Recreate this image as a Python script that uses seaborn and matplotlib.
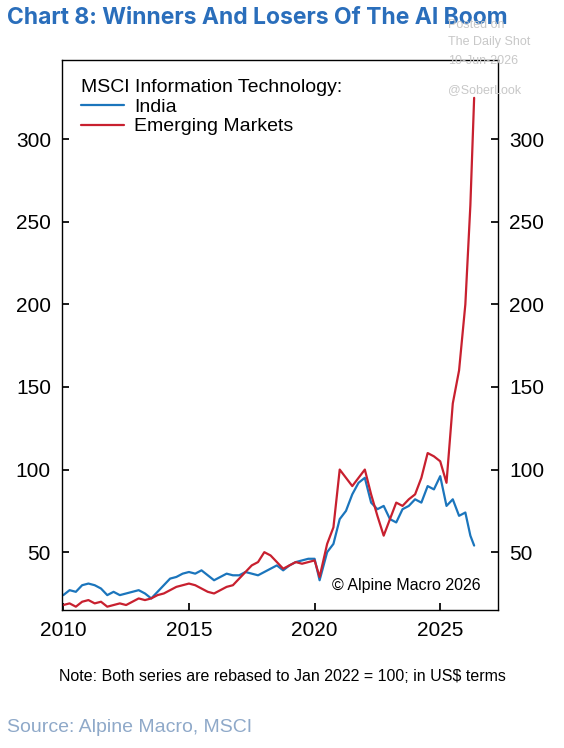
import numpy as np
import pandas as pd
import matplotlib
matplotlib.use("Agg")
import matplotlib.pyplot as plt
import seaborn as sns
from matplotlib.lines import Line2D

# quarterly readings (rebased, Jan 2022 = 100)
india_dates = [2010.0, 2010.25, 2010.5, 2010.75, 2011.0, 2011.25, 2011.5, 2011.75, 2012.0, 2012.25,
               2012.5, 2012.75, 2013.0, 2013.25, 2013.5, 2013.75, 2014.0, 2014.25, 2014.5, 2014.75,
               2015.0, 2015.25, 2015.5, 2015.75, 2016.0, 2016.25, 2016.5, 2016.75, 2017.0, 2017.25,
               2017.5, 2017.75, 2018.0, 2018.25, 2018.5, 2018.75, 2019.0, 2019.25, 2019.5, 2019.75,
               2020.0, 2020.2, 2020.5, 2020.75, 2021.0, 2021.25, 2021.5, 2021.75, 2022.0, 2022.25,
               2022.5, 2022.75, 2023.0, 2023.25, 2023.5, 2023.75, 2024.0, 2024.25, 2024.5, 2024.75,
               2025.0, 2025.25, 2025.5, 2025.75, 2026.0, 2026.2, 2026.35]
india_vals = [24, 27, 26, 30, 31, 30, 28, 24, 26, 24,
              25, 26, 27, 25, 22, 26, 30, 34, 35, 37,
              38, 37, 39, 36, 33, 35, 37, 36, 36, 38,
              37, 36, 38, 40, 42, 39, 42, 44, 45, 46,
              46, 33, 50, 55, 70, 75, 85, 92, 95, 80,
              76, 78, 70, 68, 76, 78, 82, 80, 90, 88,
              96, 78, 82, 72, 74, 60, 54]
em_vals = [18, 19, 17, 20, 21, 19, 20, 17, 18, 19,
           18, 20, 22, 21, 22, 24, 25, 27, 29, 30,
           31, 30, 28, 26, 25, 27, 29, 30, 34, 38,
           42, 44, 50, 48, 44, 40, 42, 44, 43, 44,
           45, 35, 55, 65, 100, 95, 90, 95, 100, 85,
           72, 60, 70, 80, 78, 82, 85, 95, 110, 108,
           105, 92, 140, 160, 200, 260, 325]

sns.set_theme(style="white")
plt.rcParams['font.family'] = ['Liberation Sans', 'DejaVu Sans']

fig = plt.figure(figsize=(5.64, 7.48), dpi=100)
ax = fig.add_axes([0.110, 0.1845, 0.773, 0.7355])

df = pd.DataFrame({'date': india_dates * 2,
                   'value': india_vals + em_vals,
                   'series': ['India'] * len(india_vals) + ['Emerging Markets'] * len(em_vals)})
sns.lineplot(data=df, x='date', y='value', hue='series',
             palette={'India': '#1b75bc', 'Emerging Markets': '#c8202f'},
             linewidth=1.6, ax=ax, legend=False)

ax.set_xlim(2009.95, 2027.3)
ax.set_ylim(15, 348)
ax.set_xticks([2010, 2015, 2020, 2025])
ax.set_yticks([50, 100, 150, 200, 250, 300])
ax.set_xlabel('')
ax.set_ylabel('')
ax.tick_params(axis='both', labelsize=15, labelcolor='black', direction='in', length=5, color='black',
               left=True, right=True, bottom=True, labelright=True, pad=8)
for s in ax.spines.values():
    s.set_color('black')
    s.set_linewidth(1)

handles = [Line2D([], [], color='#1b75bc', lw=1.6), Line2D([], [], color='#c8202f', lw=1.6)]
leg = ax.legend(handles, ['India', 'Emerging Markets'], title='MSCI Information Technology:',
                loc='upper left', frameon=False, fontsize=14, title_fontsize=14,
                handlelength=2.2, handletextpad=0.5, borderaxespad=0.6, labelspacing=0.1)
leg._legend_box.align = 'left'
leg.get_title().set_color('black')
for t in leg.get_texts():
    t.set_color('black')

ax.text(0.96, 0.03, '© Alpine Macro 2026', transform=ax.transAxes, ha='right', va='bottom',
        fontsize=11.5, color='black')

fig.text(0.012, 0.976, 'Chart 8: Winners And Losers Of The AI Boom', fontsize=16.5,
         fontweight='bold', color='#2a6ebb', family=['Inter', 'DejaVu Sans'], va='center')
fig.text(0.50, 0.090, 'Note: Both series are rebased to Jan 2022 = 100; in US$ terms',
         ha='center', fontsize=11.5, color='black')
fig.text(0.012, 0.028, 'Source: Alpine Macro, MSCI', fontsize=14, color='#8fa9c9', va='center')
for txt, y in [('Posted on', 0.966), ('The Daily Shot', 0.944), ('10-Jun-2026', 0.918), ('@SoberLook', 0.880)]:
    fig.text(0.795, y, txt, fontsize=9, color='#c8c8c8', va='center')

fig.savefig('out.png', dpi=100)
